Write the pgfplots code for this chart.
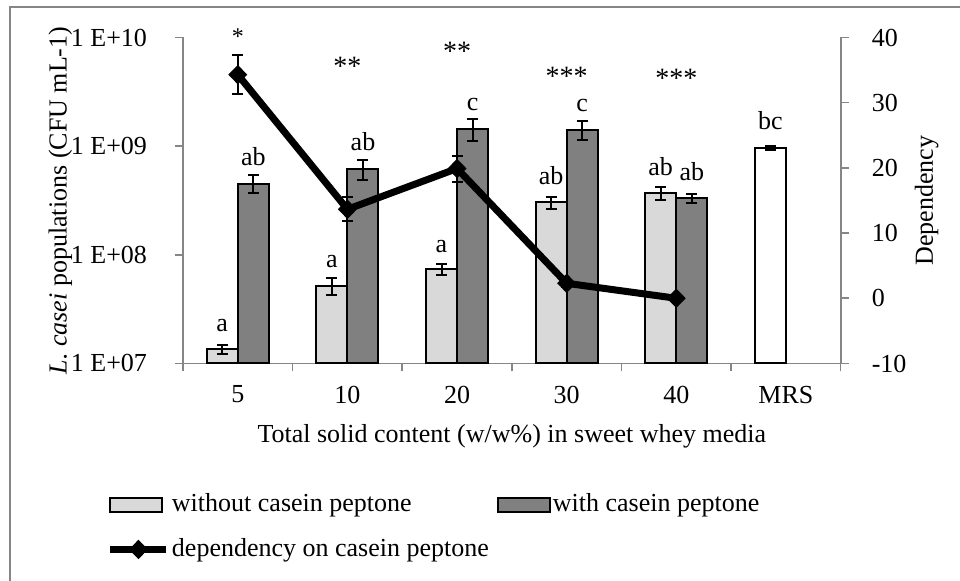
\documentclass[border=0pt]{standalone}
\usepackage{fontspec}
\setmainfont{Liberation Serif}
\usepackage{pgfplots}
\pgfplotsset{compat=1.18}
\definecolor{axgray}{HTML}{868686}
\definecolor{lightbar}{HTML}{D9D9D9}
\definecolor{darkbar}{HTML}{808080}
\pgfplotsset{
  linelegend/.style={legend image code/.code={\draw[mark repeat=2,mark phase=2,##1] plot coordinates {(0pt,0pt) (14pt,0pt) (28pt,0pt)};}},
  lightlegend/.style={legend image code/.code={\draw[fill=lightbar,draw=black,line width=1pt] (0pt,-3.5pt) rectangle (26pt,3.5pt);}},
  darklegend/.style={legend image code/.code={\draw[fill=darkbar,draw=black,line width=1pt] (0pt,-3.5pt) rectangle (26pt,3.5pt);}},
  myerr/.style={error bars/.cd, y dir=both, y explicit,
    error bar style={black, line width=1pt},
    error mark options={rotate=90, black, line width=1pt, mark size=2.75pt}},
}

\begin{document}
\fontsize{13}{15.6}\selectfont
\begin{tikzpicture}
\useasboundingbox (0,0) rectangle (480pt,290.5pt);
\begin{axis}[
 at={(91.5pt,108.75pt)}, anchor=south west,
 scale only axis, width=328.85pt, height=163pt,
 xmin=-0.5, xmax=5.5,
 ymode=log, ymin=1e7, ymax=1e10, log origin=infty,
 axis x line*=bottom, axis y line*=left,
 axis line style={axgray, line width=0.8pt, -},
 tick style={axgray, line width=0.8pt},
 tick align=outside, major tick length=4pt,
 xtick={-0.5,0.5,...,5.5}, x tick label as interval,
 xticklabels={5,10,20,30,40,MRS},
 xticklabel style={yshift=-2.7pt},
 ytick={1e7,1e8,1e9,1e10},
 yticklabels={1 E+07\hspace*{9.5pt},1 E+08\hspace*{9.5pt},1 E+09\hspace*{9.5pt},1 E+10\hspace*{9.5pt}},
 yminorticks=false,
 ybar, bar width=15.5pt,
 ylabel={\textit{L. casei} populations (CFU mL-1)},
 every axis y label/.style={at={(axis description cs:-0.1768,0.5)}, anchor=base, rotate=90},
 xlabel={Total solid content (w/w\%) in sweet whey media},
 every axis x label/.style={at={(axis description cs:0.5,-0.2439)}, anchor=base},
]
\addplot[fill=lightbar, draw=black, line width=1pt, bar shift=-7.75pt, myerr]
 table[x=x, y=y, y error=e] {
x y e
0 1.35e7 0.13e7
1 5.2e7 0.95e7
2 7.41e7 0.85e7
3 3.04e8 0.4e8
4 3.68e8 0.5e8
};
\addplot[fill=darkbar, draw=black, line width=1pt, bar shift=7.75pt, myerr]
 table[x=x, y=y, y error=e] {
x y e
0 4.52e8 0.85e8
1 6.17e8 1.3e8
2 1.44e9 0.32e9
3 1.42e9 0.28e9
4 3.31e8 0.32e8
};
\addplot[fill=white, draw=black, line width=1pt, bar shift=-7.75pt, myerr]
 table[x=x, y=y, y error=e] {
x y e
5 9.68e8 0.4e8
};
\end{axis}

\begin{axis}[
 at={(91.5pt,108.75pt)}, anchor=south west,
 scale only axis, width=328.85pt, height=163pt,
 xmin=-0.5, xmax=5.5, ymin=-10, ymax=40,
 axis x line=none, axis y line*=right,
 axis line style={axgray, line width=0.8pt, -},
 tick style={axgray, line width=0.8pt},
 tick align=outside, major tick length=4pt,
 ytick={-10,0,10,20,30,40},
 yticklabels={\hspace*{7pt}-10,\hspace*{7pt}0,\hspace*{7pt}10,\hspace*{7pt}20,\hspace*{7pt}30,\hspace*{7pt}40},
 ylabel={Dependency},
 every axis y label/.style={at={(axis description cs:1.140,0.5)}, anchor=base, rotate=90},
 clip=false,
 legend columns=2,
 legend cell align=left,
 legend style={at={(axis description cs:-0.1156,-0.394)}, anchor=north west,
   draw=none, fill=none, inner sep=0pt, outer sep=0pt, row sep=9.3pt,
   nodes={inner sep=1pt},
   /tikz/every even column/.append style={column sep=3pt}},
]
\addlegendimage{lightlegend}
\addlegendentry{without casein peptone}
\addlegendimage{darklegend}
\addlegendentry{with casein peptone}
\addplot[black, line width=3.5pt, mark=diamond*, mark size=4.5pt,
  mark options={solid, fill=black, line width=0.5pt, xscale=1.3},
  linelegend, myerr]
 table[x=x, y=y, y error=e] {
x y e
0 34.3 3.0
1 13.65 1.85
2 19.9 2.0
3 2.3 0.5
4 0 0
};
\addlegendentry{dependency on casein peptone}

\node[anchor=base] at (axis cs:-0.142,-5.14) {a};
\node[anchor=base] at (axis cs:0.142,20.37) {ab};
\node[anchor=base] at (axis cs:0.858,4.72) {a};
\node[anchor=base] at (axis cs:1.142,22.67) {ab};
\node[anchor=base] at (axis cs:1.858,7.09) {a};
\node[anchor=base] at (axis cs:2.142,28.8) {c};
\node[anchor=base] at (axis cs:2.858,17.49) {ab};
\node[anchor=base] at (axis cs:3.142,28.65) {c};
\node[anchor=base] at (axis cs:3.858,18.79) {ab};
\node[anchor=base] at (axis cs:4.142,18.02) {ab};
\node[anchor=base] at (axis cs:4.858,25.95) {bc};
\node[anchor=base, font=\fontsize{12}{14}\selectfont] at (axis cs:0,39.0) {*};
\node[anchor=base, font=\fontsize{14}{16}\selectfont] at (axis cs:1,34.2) {**};
\node[anchor=base, font=\fontsize{14}{16}\selectfont] at (axis cs:2,36.5) {**};
\node[anchor=base, font=\fontsize{14}{16}\selectfont] at (axis cs:3,32.67) {***};
\node[anchor=base, font=\fontsize{14}{16}\selectfont] at (axis cs:4,32.4) {***};
\end{axis}
\draw[axgray, line width=1pt] (5pt,0pt) -- (5pt,287pt) -- (480pt,287pt);
\end{tikzpicture}
\end{document}
